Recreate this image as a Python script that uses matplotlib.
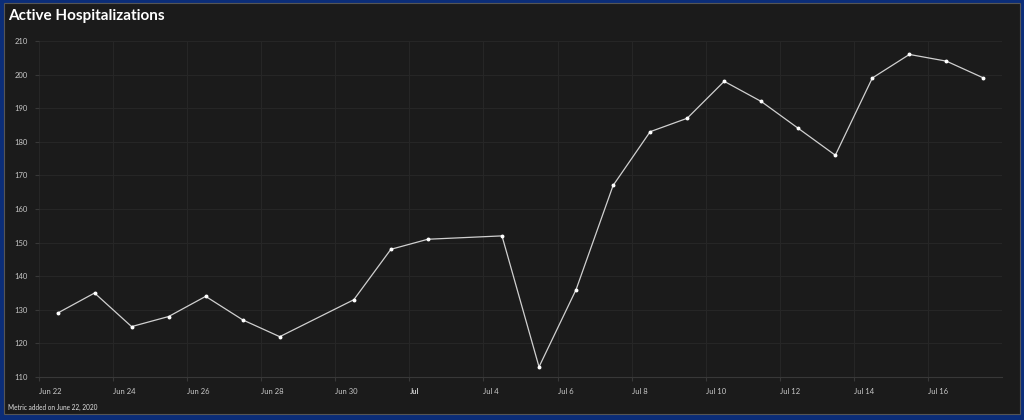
import datetime as dt
import matplotlib
matplotlib.use('Agg')
import matplotlib.pyplot as plt
from matplotlib.patches import Rectangle

plt.rcParams['font.family'] = ['Lato', 'DejaVu Sans']

# data: one reading per day (noon), some days missing
dates = ['2020-06-22', '2020-06-23', '2020-06-24', '2020-06-25', '2020-06-26',
         '2020-06-27', '2020-06-28', '2020-06-30', '2020-07-01', '2020-07-02',
         '2020-07-04', '2020-07-05', '2020-07-06', '2020-07-07', '2020-07-08',
         '2020-07-09', '2020-07-10', '2020-07-11', '2020-07-12', '2020-07-13',
         '2020-07-14', '2020-07-15', '2020-07-16', '2020-07-17']
hospitalized = [129, 135, 125, 128, 134, 127, 122, 133, 148, 151,
                152, 113, 136, 167, 183, 187, 198, 192, 184, 176,
                199, 206, 204, 199]

tick_dates = ['2020-06-22', '2020-06-24', '2020-06-26', '2020-06-28', '2020-06-30',
              '2020-07-02', '2020-07-04', '2020-07-06', '2020-07-08', '2020-07-10',
              '2020-07-12', '2020-07-14', '2020-07-16']
tick_labels = ['Jun 22', 'Jun 24', 'Jun 26', 'Jun 28', 'Jun 30', 'Jul', 'Jul 4',
               'Jul 6', 'Jul 8', 'Jul 10', 'Jul 12', 'Jul 14', 'Jul 16']
y_ticks = [110, 120, 130, 140, 150, 160, 170, 180, 190, 200, 210]

x = [dt.datetime.strptime(d, '%Y-%m-%d') + dt.timedelta(hours=12) for d in dates]
xt = [dt.datetime.strptime(d, '%Y-%m-%d') for d in tick_dates]

fig = plt.figure(figsize=(10.24, 4.2), dpi=100)
fig.patch.set_facecolor('#0b2d78')

# dark card behind everything
bg = fig.add_axes([0, 0, 1, 1], zorder=-5)
bg.set_xlim(0, 1024)
bg.set_ylim(420, 0)
bg.axis('off')
bg.add_patch(Rectangle((4, 3), 1016, 411, facecolor='#1b1b1b',
                       edgecolor='#555555', linewidth=0.8))

ax = fig.add_axes([39 / 1024, 1 - 377 / 420, 963 / 1024, 336 / 420])
ax.set_facecolor('#1b1b1b')
ax.plot(x, hospitalized, color='#d0d0d0', linewidth=0.9, marker='o',
        markersize=1.8, markerfacecolor='white', markeredgecolor='white', zorder=3)

ax.set_xlim(dt.datetime(2020, 6, 22), dt.datetime(2020, 7, 18))
ax.set_ylim(110, 210)
ax.set_yticks(y_ticks)
ax.set_xticks(xt)
ax.set_xticklabels(tick_labels)
for lbl in ax.get_xticklabels():
    lbl.set_horizontalalignment('left')
    if lbl.get_text() == 'Jul':
        lbl.set_fontweight('bold')
        lbl.set_color('white')

ax.grid(True, color='#262626', linewidth=0.8)
for s in ['top', 'right', 'left']:
    ax.spines[s].set_visible(False)
ax.spines['bottom'].set_color('#383838')
ax.tick_params(axis='both', colors='#383838', labelcolor='#c8c8c8', labelsize=5.5, length=3)
ax.tick_params(axis='y', pad=5)
ax.tick_params(axis='x', pad=5)

fig.text(8 / 1024, 1 - 16 / 420, 'Active Hospitalizations', color='white', fontsize=11,
         fontweight='bold', va='center', ha='left')
fig.text(8 / 1024, 1 - 407 / 420, 'Metric added on June 22, 2020', color='#e0e0e0',
         fontsize=4.7, va='center', ha='left')

fig.savefig('out.png', dpi=100, facecolor=fig.get_facecolor())
